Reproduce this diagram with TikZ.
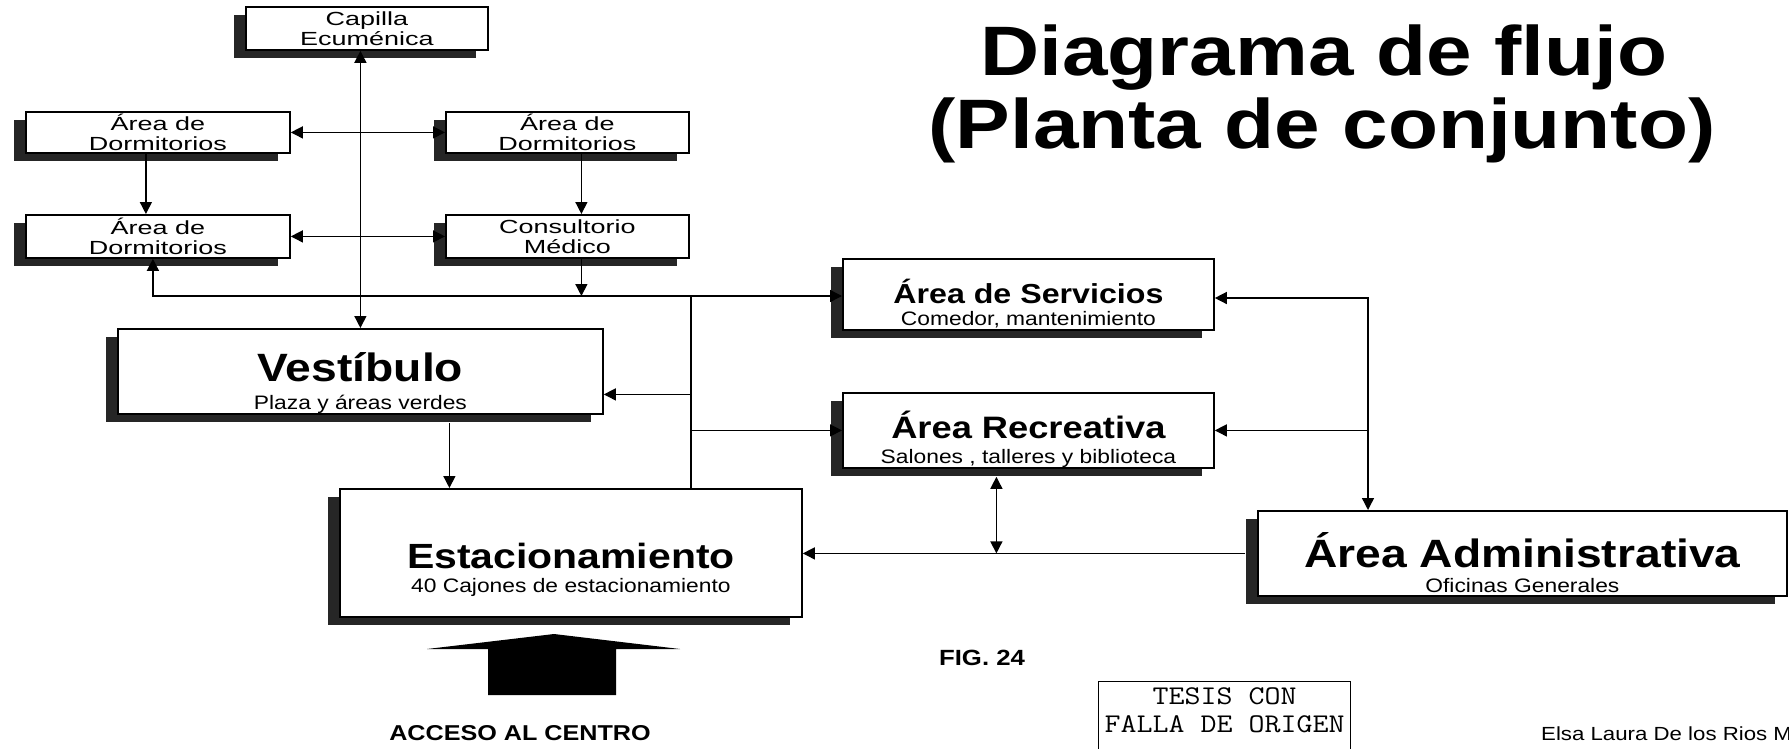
\documentclass[tikz,border=0pt]{standalone}
\usepackage{fontspec}
\setmainfont{Liberation Sans}[FakeStretch=1.17]
\newfontfamily\chicafont{Liberation Sans}[FakeStretch=1.42]
\newfontfamily\sellofont{Latin Modern Mono}[FakeStretch=1.15]
\usetikzlibrary{arrows.meta,shadows,calc}
\tikzset{
  caja/.style={draw, line width=1.8pt, fill=white, anchor=north west, inner sep=0pt,
    drop shadow={shadow xshift=-12pt, shadow yshift=-8pt, fill=black!85, opacity=1}},
  chica/.style={caja, align=center, font=\chicafont\fontsize{19}{20}\selectfont},
  titulo/.style={anchor=base, inner sep=0pt, font=\fontsize{#1}{#1}\selectfont\bfseries},
  subt/.style={anchor=base, inner sep=0pt, font=\fontsize{19.5}{20}\selectfont},
  linea/.style={line width=1.4pt},
  flecha/.style={linea, -{Triangle[length=12pt,width=12pt]}},
  doble/.style={linea, {Triangle[length=12pt,width=12pt]}-{Triangle[length=12pt,width=12pt]}}
}
\begin{document}
\begin{tikzpicture}[x=1pt,y=-1pt]
        \useasboundingbox (0,0) rectangle (1789,748);
        \node[chica, minimum width=242pt, minimum height=43pt] (capilla) at (245,6) {Capilla\\Ecuménica};
        \node[chica, minimum width=264pt, minimum height=41pt] (dormA) at (25,111) {Área de\\Dormitorios};
        \node[chica, minimum width=243pt, minimum height=41pt] (dormB) at (445,111) {Área de\\Dormitorios};
        \node[chica, minimum width=264pt, minimum height=43pt] (dormC) at (25,214) {Área de\\Dormitorios};
        \node[chica, minimum width=243pt, minimum height=43pt] (consul) at (445,214) {Consultorio\\Médico};
        \node[caja, minimum width=485pt, minimum height=85pt] (vest) at (117,328) {};
        \node[caja, minimum width=462pt, minimum height=128pt] (estac) at (339,488) {};
        \node[caja, minimum width=371pt, minimum height=71pt] (serv) at (842,258) {};
        \node[caja, minimum width=371pt, minimum height=75pt] (recre) at (842,392) {};
        \node[caja, minimum width=529pt, minimum height=85pt] (admin) at (1257,510) {};
        \node[titulo=39.5, yshift=33pt] (vestT) at (vest.south) {Vestíbulo};
        \node[subt, yshift=5pt] (vestS) at (vest.south) {Plaza y áreas verdes};
        \node[titulo=35, yshift=49pt] (estacT) at (estac.south) {Estacionamiento};
        \node[subt, yshift=25pt] (estacS) at (estac.south) {40 Cajones de estacionamiento};
        \node[titulo=27.5, yshift=27pt] (servT) at (serv.south) {Área de Servicios};
        \node[subt, yshift=5pt] (servS) at (serv.south) {Comedor, mantenimiento};
        \node[titulo=31, yshift=30pt] (recreT) at (recre.south) {Área Recreativa};
        \node[subt, yshift=5pt] (recreS) at (recre.south) {Salones , talleres y biblioteca};
        \node[titulo=39.5, yshift=29pt] (adminT) at (admin.south) {Área Administrativa};
        \node[subt, yshift=4pt] (adminS) at (admin.south) {Oficinas Generales};
        \node[titulo=70] (tit1) at (1324,75) {Diagrama de flujo};
        \node[titulo=70] (tit2) at (1322,148) {(Planta de conjunto)};
        \node[titulo=22] (fig) at (982,665) {FIG. 24};
        \node[titulo=21.5] (acceso) at (520,740) {ACCESO AL CENTRO};
        \node[subt, anchor=base west, font=\fontsize{19}{20}\selectfont] (autora) at (1541,740) {Elsa Laura De los Rios M};
        \node[draw, line width=1.2pt, anchor=north west, minimum width=252pt, minimum height=70pt] (sello) at (1098,681) {};
        \node[anchor=north, inner sep=0pt, align=center, yshift=-6pt,
          font=\sellofont\fontsize{27}{28}\selectfont] (selloT) at (sello.north) {TESIS CON\\FALLA DE ORIGEN};
        \coordinate (nodo) at (691,296);
        \coordinate (der) at (1368,298);
        \coordinate (aVest) at ([yshift=-23pt]vest.east);
        \coordinate (cRec) at ([xshift=-32pt,yshift=-8pt]recre.south);
        \coordinate (cVest) at ([xshift=89pt,yshift=-8pt]vest.south);
        \draw[doble] (capilla.south -| vest.north) -- (vest.north);
        \draw[doble] (dormA.east) -- (dormB.west);
        \draw[doble] (dormC.east) -- (consul.west);
        \draw[flecha] ([xshift=-12pt]dormA.south) -- ([xshift=-12pt]dormC.north);
        \draw[flecha] ([xshift=14pt]dormB.south) -- ([xshift=14pt]consul.north);
        \draw[flecha] ([xshift=14pt]consul.south) -- ([xshift=14pt]consul.south |- nodo);
        \draw[flecha] (nodo) -- (nodo -| serv.west);
        \draw[flecha] (nodo) -| ([xshift=-5pt]dormC.south);
        \draw[linea] (nodo) -- (nodo |- estac.north);
        \draw[flecha] (aVest -| nodo) -- (aVest);
        \draw[flecha] (recre.west -| nodo) -- (recre.west);
        \draw[doble] (serv.east |- der) -- (der) -- (der |- admin.north);
        \draw[flecha] (recre.east -| der) -- (recre.east);
        \draw[flecha] ([xshift=-12pt]admin.west) -- (admin.west -| estac.east);
        \draw[doble] (cRec) -- (cRec |- admin.west);
        \draw[flecha] (cVest) -- (cVest |- estac.north);
        \fill (427,649) -- (554,634) -- (680,649) -- (616,649) -- (616,695) -- (488,695) -- (488,649) -- cycle;
    \end{tikzpicture}
\end{document}
